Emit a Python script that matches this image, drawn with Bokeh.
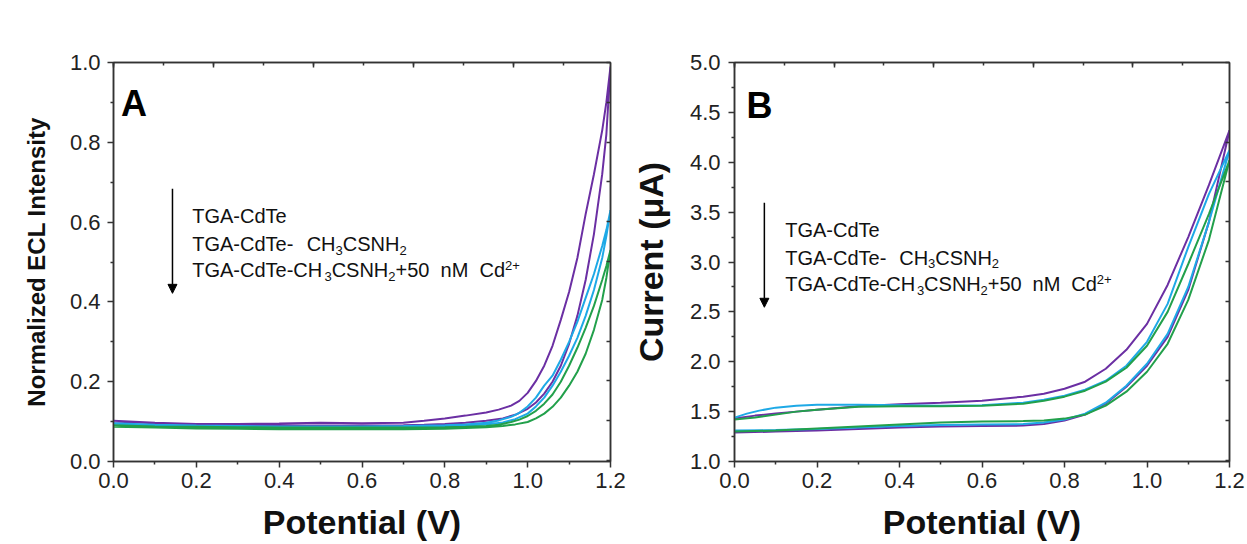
from bokeh.plotting import figure
from bokeh.layouts import row
from bokeh.models import (Range1d, LinearAxis, SingleIntervalTicker, FixedTicker, CustomJSTickFormatter,
                          NumeralTickFormatter, Label, Arrow, NormalHead)
from bokeh.embed import file_html
from bokeh.resources import INLINE

FONT = "Liberation Sans"
C_PURPLE = "#6B2FA3"
C_BLUE = "#1EA9E6"
C_GREEN = "#22A04B"

# ---------------- tick values ----------------
x_major = [0.0, 0.2, 0.4, 0.6, 0.8, 1.0, 1.2]
x_minor = [0.1, 0.3, 0.5, 0.7, 0.9, 1.1]
ya_major = [0.0, 0.2, 0.4, 0.6, 0.8, 1.0]
ya_minor = [0.1, 0.3, 0.5, 0.7, 0.9]
yb_major = [1.0, 1.5, 2.0, 2.5, 3.0, 3.5, 4.0, 4.5, 5.0]
yb_minor = [1.25, 1.75, 2.25, 2.75, 3.25, 3.75, 4.25, 4.75]

# ---------------- Panel A: normalized ECL intensity vs potential ----------------
a_purple_fwd_v = [0, 0.1, 0.2, 0.3, 0.4, 0.5, 0.6, 0.7, 0.75, 0.8, 0.85, 0.9, 0.94, 0.97, 1.0, 1.02, 1.04, 1.06, 1.08, 1.1, 1.12, 1.14, 1.16, 1.18, 1.19, 1.2]
a_purple_fwd_i = [0.100, 0.096, 0.093, 0.091, 0.090, 0.090, 0.090, 0.091, 0.092, 0.094, 0.097, 0.102, 0.108, 0.117, 0.132, 0.148, 0.170, 0.200, 0.240, 0.295, 0.365, 0.455, 0.570, 0.720, 0.820, 0.990]
a_purple_rev_v = [1.2, 1.19, 1.18, 1.16, 1.14, 1.12, 1.1, 1.08, 1.06, 1.04, 1.02, 1.0, 0.98, 0.96, 0.93, 0.9, 0.85, 0.8, 0.75, 0.7, 0.6, 0.5, 0.4, 0.3, 0.2, 0.1, 0]
a_purple_rev_i = [0.990, 0.900, 0.830, 0.720, 0.620, 0.510, 0.425, 0.355, 0.290, 0.240, 0.202, 0.172, 0.152, 0.140, 0.130, 0.123, 0.115, 0.108, 0.102, 0.097, 0.096, 0.097, 0.095, 0.094, 0.094, 0.097, 0.102]

a_blue_fwd_v = [0, 0.1, 0.2, 0.3, 0.4, 0.5, 0.6, 0.7, 0.8, 0.85, 0.9, 0.94, 0.97, 1.0, 1.02, 1.04, 1.06, 1.08, 1.1, 1.12, 1.14, 1.16, 1.18, 1.19, 1.2]
a_blue_fwd_i = [0.094, 0.091, 0.089, 0.087, 0.086, 0.086, 0.086, 0.087, 0.088, 0.090, 0.093, 0.098, 0.106, 0.120, 0.138, 0.160, 0.190, 0.225, 0.265, 0.310, 0.365, 0.430, 0.510, 0.565, 0.630]
a_blue_rev_v = [1.2, 1.19, 1.18, 1.16, 1.14, 1.12, 1.1, 1.08, 1.06, 1.04, 1.02, 1.0, 0.98, 0.96, 0.93, 0.9, 0.85, 0.8, 0.7, 0.6, 0.5, 0.4, 0.3, 0.2, 0.1, 0]
a_blue_rev_i = [0.630, 0.580, 0.540, 0.470, 0.410, 0.350, 0.300, 0.255, 0.215, 0.190, 0.160, 0.138, 0.122, 0.112, 0.103, 0.097, 0.093, 0.091, 0.089, 0.088, 0.088, 0.088, 0.089, 0.090, 0.092, 0.096]

a_green_fwd_v = [0, 0.1, 0.2, 0.3, 0.4, 0.5, 0.6, 0.7, 0.8, 0.85, 0.9, 0.94, 0.97, 1.0, 1.02, 1.04, 1.06, 1.08, 1.1, 1.12, 1.14, 1.16, 1.18, 1.19, 1.2]
a_green_fwd_i = [0.087, 0.085, 0.083, 0.082, 0.081, 0.081, 0.081, 0.081, 0.082, 0.084, 0.086, 0.089, 0.093, 0.099, 0.108, 0.120, 0.137, 0.160, 0.190, 0.225, 0.270, 0.330, 0.405, 0.460, 0.530]
a_green_rev_v = [1.2, 1.19, 1.18, 1.16, 1.14, 1.12, 1.1, 1.08, 1.06, 1.04, 1.02, 1.0, 0.98, 0.96, 0.93, 0.9, 0.85, 0.8, 0.7, 0.6, 0.5, 0.4, 0.3, 0.2, 0.1, 0]
a_green_rev_i = [0.530, 0.490, 0.455, 0.390, 0.335, 0.285, 0.240, 0.200, 0.168, 0.145, 0.127, 0.114, 0.105, 0.099, 0.092, 0.089, 0.087, 0.086, 0.085, 0.085, 0.085, 0.085, 0.086, 0.087, 0.088, 0.091]

# ---------------- Panel B: cyclic voltammograms (current in uA) ----------------
b_purple_low_v = [0, 0.1, 0.2, 0.3, 0.4, 0.5, 0.6, 0.7, 0.75, 0.8, 0.85, 0.9, 0.95, 1.0, 1.05, 1.1, 1.15, 1.2]
b_purple_low_i = [1.29, 1.30, 1.31, 1.325, 1.34, 1.35, 1.355, 1.36, 1.375, 1.41, 1.47, 1.58, 1.75, 1.96, 2.25, 2.72, 3.40, 4.32]
b_purple_up_v = [1.2, 1.15, 1.1, 1.05, 1.0, 0.95, 0.9, 0.85, 0.8, 0.75, 0.7, 0.6, 0.5, 0.4, 0.3, 0.2, 0.15, 0.1, 0.05, 0]
b_purple_up_i = [4.32, 3.77, 3.25, 2.77, 2.38, 2.12, 1.93, 1.80, 1.73, 1.68, 1.65, 1.61, 1.59, 1.575, 1.555, 1.52, 1.50, 1.48, 1.46, 1.43]

b_blue_low_v = [0, 0.1, 0.2, 0.3, 0.4, 0.5, 0.6, 0.7, 0.75, 0.8, 0.85, 0.9, 0.95, 1.0, 1.05, 1.1, 1.15, 1.2]
b_blue_low_i = [1.31, 1.315, 1.325, 1.34, 1.355, 1.365, 1.37, 1.375, 1.39, 1.42, 1.48, 1.59, 1.76, 1.98, 2.28, 2.75, 3.40, 4.12]
b_blue_up_v = [1.2, 1.15, 1.1, 1.05, 1.0, 0.95, 0.9, 0.85, 0.8, 0.75, 0.7, 0.6, 0.5, 0.4, 0.3, 0.2, 0.15, 0.1, 0.06, 0.03, 0]
b_blue_up_i = [4.12, 3.68, 3.15, 2.58, 2.20, 1.96, 1.81, 1.72, 1.66, 1.62, 1.59, 1.565, 1.56, 1.565, 1.57, 1.57, 1.56, 1.54, 1.51, 1.48, 1.44]

b_green_low_v = [0, 0.1, 0.2, 0.3, 0.4, 0.5, 0.6, 0.7, 0.75, 0.8, 0.85, 0.9, 0.95, 1.0, 1.05, 1.1, 1.15, 1.2]
b_green_low_i = [1.30, 1.31, 1.33, 1.35, 1.37, 1.39, 1.40, 1.405, 1.41, 1.43, 1.47, 1.56, 1.70, 1.90, 2.18, 2.62, 3.22, 4.02]
b_green_up_v = [1.2, 1.15, 1.1, 1.05, 1.0, 0.95, 0.9, 0.85, 0.8, 0.75, 0.7, 0.6, 0.5, 0.4, 0.3, 0.2, 0.15, 0.1, 0.05, 0]
b_green_up_i = [4.02, 3.48, 2.98, 2.50, 2.16, 1.94, 1.80, 1.71, 1.65, 1.61, 1.58, 1.56, 1.555, 1.555, 1.55, 1.52, 1.50, 1.47, 1.44, 1.42]

# legend text, split into normal / subscript / superscript runs ("gap" = spacing)
legend_lines = [
    [("TGA-CdTe", "n")],
    [("TGA-CdTe-", "n"), ("  ", "gap"), ("CH", "n"), ("3", "sub"), ("CSNH", "n"), ("2", "sub")],
    [("TGA-CdTe-CH", "n"), ("3", "sub"), ("CSNH", "n"), ("2", "sub"), ("+50", "n"), ("  ", "gap"),
     ("nM", "n"), ("  ", "gap"), ("Cd", "n"), ("2+", "sup")],
]
x_title = "Potential (V)"

AX = "#333333"
# Arial / Liberation Sans advance widths (1/1000 em) used to lay out the text runs
ADV = {"T": 611, "G": 778, "A": 667, "-": 333, "C": 722, "d": 556, "e": 556, "H": 722, "S": 667,
       "N": 722, " ": 278, "+": 584, "n": 556, "M": 833, "0": 556, "2": 556, "3": 556, "5": 556}
PPX = 497 / 1.2  # pixels per volt (both panels)


def frame_axes(p, y_major, y_minor, frame_w, frame_h, ylabel, ylabel_size, y_standoff, ylabel_standoff):
    p.xgrid.visible = False
    p.ygrid.visible = False
    p.outline_line_color = AX
    p.outline_line_width = 1.5
    p.background_fill_color = "white"
    p.border_fill_color = "white"
    for ax, tk in ((p.xaxis[0], FixedTicker(ticks=x_major, minor_ticks=x_minor)),
                   (p.yaxis[0], FixedTicker(ticks=y_major, minor_ticks=y_minor))):
        ax.ticker = tk
        ax.formatter = NumeralTickFormatter(format="0.0")
        ax.axis_line_color = AX
        ax.axis_line_width = 1.5
        ax.major_tick_line_color = AX
        ax.minor_tick_line_color = AX
        ax.major_tick_line_width = 1.5
        ax.minor_tick_line_width = 1.5
        ax.major_tick_out = 6
        ax.major_tick_in = 0
        ax.minor_tick_out = 3
        ax.minor_tick_in = 0
        ax.major_label_text_font = FONT
        ax.major_label_text_font_size = "22px"
        ax.major_label_text_color = "#222222"
        ax.axis_label_text_font = FONT
        ax.axis_label_text_font_style = "bold"
        ax.axis_label_text_color = "#111111"
    p.xaxis[0].major_label_standoff = 5
    p.xaxis[0].axis_label = x_title
    p.xaxis[0].axis_label_text_font_size = "34px"
    p.xaxis[0].axis_label_standoff = 12
    p.yaxis[0].major_label_standoff = y_standoff
    p.yaxis[0].axis_label = ylabel
    p.yaxis[0].axis_label_text_font_size = ylabel_size
    p.yaxis[0].axis_label_standoff = ylabel_standoff

    # mirror axes (top / right) with inward ticks and no labels
    p.extra_x_ranges = {"top": Range1d(0, frame_w / 50.0)}
    p.extra_y_ranges = {"right": Range1d(-frame_h / 40.0, 0)}
    top = LinearAxis(x_range_name="top", ticker=SingleIntervalTicker(interval=2, num_minor_ticks=2),
                     formatter=CustomJSTickFormatter(code="return ''"),
                     major_tick_in=5, major_tick_out=0, minor_tick_in=3, minor_tick_out=0,
                     axis_line_color=AX, axis_line_width=1.5,
                     major_tick_line_color=AX, minor_tick_line_color=AX,
                     major_tick_line_width=1.5, minor_tick_line_width=1.5,
                     major_label_text_font_size="1px", major_label_standoff=0)
    right = LinearAxis(y_range_name="right", ticker=SingleIntervalTicker(interval=1, num_minor_ticks=0),
                       formatter=CustomJSTickFormatter(code="return ''"),
                       major_tick_in=4, major_tick_out=0, minor_tick_in=0, minor_tick_out=0,
                       axis_line_color=AX, axis_line_width=1.5,
                       major_tick_line_color=AX, major_tick_line_width=1.5,
                       major_label_text_font_size="1px", major_label_standoff=0)
    p.add_layout(top, "above")
    p.add_layout(right, "right")


def add_texts(p, to_y, letter, letter_x, letter_py, arrow_x, arrow_py, legend_x, legend_py):
    # panel letter
    p.add_layout(Label(x=letter_x, y=to_y(letter_py), text=letter, text_font=FONT,
                       text_font_style="bold", text_font_size="36px", text_color="#000000",
                       text_align="left", text_baseline="middle"))
    # downward arrow
    p.add_layout(Arrow(end=NormalHead(size=9, fill_color="#000000", line_color="#000000", line_width=1),
                       x_start=arrow_x, y_start=to_y(arrow_py[0]), x_end=arrow_x, y_end=to_y(arrow_py[1]),
                       line_color="#000000", line_width=1.5))
    # legend lines built from runs
    for runs, py in zip(legend_lines, legend_py):
        off = 0.0
        for txt, kind in runs:
            size = 13 if kind in ("sub", "sup") else 20
            w = sum(ADV[c] for c in txt) * size / 1000.0
            if kind != "gap":
                dy = 6.5 if kind == "sub" else (-4.5 if kind == "sup" else 0.0)
                p.add_layout(Label(x=legend_x + off / PPX, y=to_y(py + dy), text=txt, text_font=FONT,
                                   text_font_size="%dpx" % size, text_color="#111111",
                                   text_align="left", text_baseline="middle"))
            off += w


# ---------------- figure A (frame: x 113..610, y 61..462) ----------------
pA = figure(width=628, height=544, x_range=Range1d(0, 1.2), y_range=Range1d(0, 1.0),
            output_backend="svg", toolbar_location=None,
            min_border_left=113, min_border_right=18, min_border_top=61, min_border_bottom=83)
frame_axes(pA, ya_major, ya_minor, 497, 401, "Normalized ECL Intensity", "24px", 7, 17)
for fv, fi, rv, ri, col in ((a_purple_fwd_v, a_purple_fwd_i, a_purple_rev_v, a_purple_rev_i, C_PURPLE),
                            (a_blue_fwd_v, a_blue_fwd_i, a_blue_rev_v, a_blue_rev_i, C_BLUE),
                            (a_green_fwd_v, a_green_fwd_i, a_green_rev_v, a_green_rev_i, C_GREEN)):
    pA.line(fv + rv, fi + ri, line_color=col, line_width=2)


def ya(py):
    return (462 - py) / 401.0


add_texts(pA, ya, "A", 0.018, 102.5, 0.1424, (188, 293), 0.19, [215, 243, 270])

# ---------------- figure B (frame: x 732..1229, y 62..463) ----------------
pB = figure(width=619, height=544, x_range=Range1d(0, 1.2), y_range=Range1d(1.0, 5.0),
            output_backend="svg", toolbar_location=None,
            min_border_left=104, min_border_right=18, min_border_top=62, min_border_bottom=82)
frame_axes(pB, yb_major, yb_minor, 497, 401, "Current (\u03bcA)", "34px", 8, 17)
for lv, li, uv, ui, col in ((b_purple_low_v, b_purple_low_i, b_purple_up_v, b_purple_up_i, C_PURPLE),
                            (b_blue_low_v, b_blue_low_i, b_blue_up_v, b_blue_up_i, C_BLUE),
                            (b_green_low_v, b_green_low_i, b_green_up_v, b_green_up_i, C_GREEN)):
    pB.line(lv + uv, li + ui, line_color=col, line_width=2)


def yb(py):
    return 1 + (463 - py) / (401 / 4.0)


add_texts(pB, yb, "B", 0.029, 105.5, 0.0724, (203, 308), 0.123, [230, 258, 285])

layout = row(pA, pB)
open("out.html", "w").write(file_html(layout, INLINE))
